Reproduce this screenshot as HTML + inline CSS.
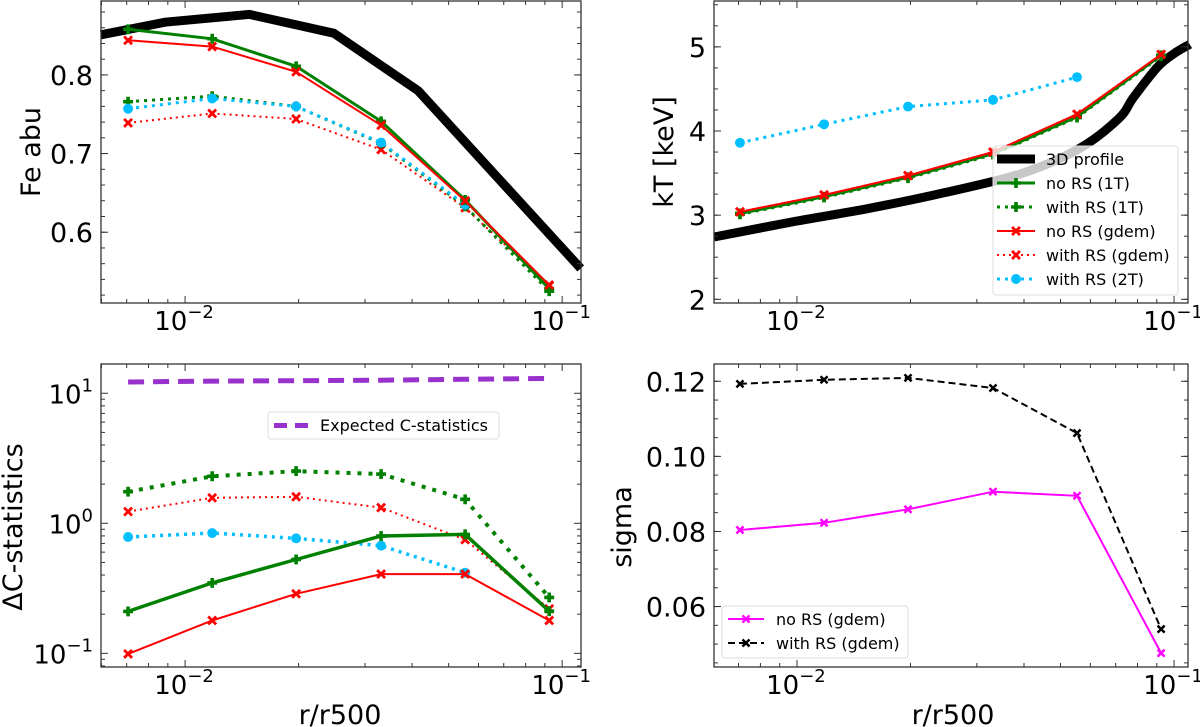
<!DOCTYPE html>
<html><head><meta charset="utf-8"><style>
html,body{margin:0;padding:0;background:#fff;}
svg{display:block;font-family:"DejaVu Sans","Liberation Sans",sans-serif;}
</style></head><body>
<svg id="fig" width="1200" height="727" viewBox="0 0 1200 727" xmlns="http://www.w3.org/2000/svg"></svg>
<script>
// ---- data ----
const rPts = [0.00706, 0.0118, 0.0197, 0.0331, 0.0553, 0.0924];
const rPts5 = [0.00706, 0.0118, 0.0197, 0.0331, 0.0553];
// Fe abundance panel
const fe3dR = [0.00598, 0.00885, 0.0148, 0.0248, 0.0415, 0.112];
const fe3d = [0.851, 0.867, 0.877, 0.853, 0.780, 0.554];
const feNoRS1T = [0.858, 0.846, 0.811, 0.741, 0.641, 0.528];
const feRS1T = [0.766, 0.773, 0.760, 0.713, 0.633, 0.525];
const feNoRSgdem = [0.844, 0.836, 0.804, 0.736, 0.640, 0.533];
const feRSgdem = [0.739, 0.751, 0.744, 0.705, 0.631, 0.532];
const feRS2T = [0.757, 0.770, 0.760, 0.714, 0.635];
// kT panel
const kt3dR = [0.00603, 0.0100, 0.0155, 0.0248, 0.0397, 0.0565, 0.0714, 0.0781, 0.0904, 0.100, 0.110];
const kt3d = [2.74, 2.93, 3.08, 3.27, 3.50, 3.80, 4.15, 4.40, 4.76, 4.92, 5.03];
const ktNoRS1T = [3.02, 3.22, 3.45, 3.73, 4.17, 4.90];
const ktRS1T = [3.01, 3.21, 3.44, 3.72, 4.16, 4.89];
const ktNoRSgdem = [3.04, 3.24, 3.47, 3.75, 4.20, 4.91];
const ktRSgdem = [3.04, 3.24, 3.47, 3.75, 4.20, 4.91];
const ktRS2T = [3.86, 4.08, 4.29, 4.37, 4.64];
// Delta C panel
const cExpected = [12.2, 12.4, 12.5, 12.6, 12.8, 13.0];
const cRS1T = [1.75, 2.30, 2.52, 2.39, 1.53, 0.269];
const cRSgdem = [1.23, 1.57, 1.60, 1.32, 0.748, 0.220];
const cRS2T = [0.785, 0.842, 0.766, 0.673, 0.417];
const cNoRS1T = [0.210, 0.348, 0.527, 0.798, 0.822, 0.211];
const cNoRSgdem = [0.099, 0.179, 0.287, 0.407, 0.407, 0.179];
// sigma panel
const sigNoRS = [0.0804, 0.0823, 0.0859, 0.0906, 0.0895, 0.0476];
const sigRS = [0.1193, 0.1204, 0.1209, 0.1182, 0.1062, 0.0540];
// ticks
const feTicks = [0.6, 0.7, 0.8];
const ktTicks = [2, 3, 4, 5];
const sigTicks = [0.06, 0.08, 0.10, 0.12];
const sigTickLabels = ["0.06", "0.08", "0.10", "0.12"];
const cTicksExp = [-1, 0, 1];
const xTicksExp = [-2, -1];

const NS = "http://www.w3.org/2000/svg";
const fig = document.getElementById('fig');
function el(tag, attrs, parent) {
  const e = document.createElementNS(NS, tag);
  for (const k in attrs) e.setAttribute(k, attrs[k]);
  (parent || fig).appendChild(e);
  return e;
}

function makePanel(name, x0, x1, y0, y1, xDom, yDom, yLog) {
  const g = el('g', {});
  
  
  const sx = v => x0 + (Math.log10(v) - xDom[0]) / (xDom[1] - xDom[0]) * (x1 - x0);
  const sy = yLog ? (v => y1 - (Math.log10(v) - yDom[0]) / (yDom[1] - yDom[0]) * (y1 - y0))
                  : (v => y1 - (v - yDom[0]) / (yDom[1] - yDom[0]) * (y1 - y0));
  return {g, sx, sy, x0, x1, y0, y1, xDom, yDom};
}

function drawFrame(p) {
  const f = el('rect', {x: p.x0, y: p.y0, width: p.x1 - p.x0, height: p.y1 - p.y0, fill: 'none', stroke: '#333', 'stroke-width': 1.3}, p.g);
  
  
}

function tick(p, orient, pos, len) {
  if (orient === 'x') {
    el('line', {x1: pos, x2: pos, y1: p.y1, y2: p.y1 - len, stroke: '#333', 'stroke-width': 1}, p.g);
    el('line', {x1: pos, x2: pos, y1: p.y0, y2: p.y0 + len, stroke: '#333', 'stroke-width': 1}, p.g);
  } else {
    el('line', {x1: p.x0, x2: p.x0 + len, y1: pos, y2: pos, stroke: '#333', 'stroke-width': 1}, p.g);
    el('line', {x1: p.x1, x2: p.x1 - len, y1: pos, y2: pos, stroke: '#333', 'stroke-width': 1}, p.g);
  }
}

function powLabel(p, x, y, exp, anchor, name) {
  const t = el('text', {x: x, y: y, 'font-size': 26, 'text-anchor': anchor, fill: '#000'}, p.g);
  
  
  t.appendChild(document.createTextNode('10'));
  const s = el('tspan', {dy: -12, 'font-size': 18}, t);
  s.textContent = exp < 0 ? '\u2212' + (-exp) : String(exp);
}

function xLogAxis(p) {
  for (let d = -3; d <= 0; d++) {
    for (let m = 1; m <= 9; m++) {
      const v = m * Math.pow(10, d);
      const lv = Math.log10(v);
      if (lv < p.xDom[0] || lv > p.xDom[1]) continue;
      tick(p, 'x', p.sx(v), m === 1 ? 7 : 4);
    }
  }
  xTicksExp.forEach(e => {
    powLabel(p, p.sx(Math.pow(10, e)) - 1, p.y1 + 27, e, 'middle', 'x-tick-label');
  });
}

function yLinAxis(p, ticks, labels, minorStep) {
  const n0 = Math.ceil(p.yDom[0] / minorStep), n1 = Math.floor(p.yDom[1] / minorStep);
  for (let i = n0; i <= n1; i++) tick(p, 'y', p.sy(i * minorStep), 4);
  ticks.forEach((v, i) => {
    tick(p, 'y', p.sy(v), 7);
    const t = el('text', {x: p.x0 - 8, y: p.sy(v) + 10, 'font-size': 27, 'text-anchor': 'end'}, p.g);
    
    
    t.textContent = labels[i];
  });
}

function yLogAxis(p) {
  for (let d = -2; d <= 1; d++) {
    for (let m = 1; m <= 9; m++) {
      const v = m * Math.pow(10, d);
      const lv = Math.log10(v);
      if (lv < p.yDom[0] || lv > p.yDom[1]) continue;
      tick(p, 'y', p.sy(v), m === 1 ? 7 : 4);
    }
  }
  cTicksExp.forEach(e => {
    powLabel(p, p.x0 - 8, p.sy(Math.pow(10, e)) + 10, e, 'end', 'y-tick-label');
  });
}

function marker(p, type, x, y, color, size) {
  const s = size;
  if (type === 'o') {
    return el('circle', {cx: x, cy: y, r: s * 0.55, fill: color}, p.g);
  } else if (type === 'X') {
    const a = s * 0.55, b = s * 0.22;
    return el('path', {d: `M${x - a},${y - a + b} L${x - a + b},${y - a} L${x},${y - b} L${x + a - b},${y - a} L${x + a},${y - a + b} L${x + b},${y} L${x + a},${y + a - b} L${x + a - b},${y + a} L${x},${y + b} L${x - a + b},${y + a} L${x - a},${y + a - b} L${x - b},${y} Z`, fill: color}, p.g);
  } else {
    const a = s * 0.55, b = s * 0.2;
    return el('path', {d: `M${x - b},${y - a} H${x + b} V${y - b} H${x + a} V${y + b} H${x + b} V${y + a} H${x - b} V${y + b} H${x - a} V${y - b} H${x - b} Z`, fill: color}, p.g);
  }
}

function series(p, name, xs, ys, color, width, dash, mk, mkSize, smooth) {
  const P = xs.map((x, i) => [p.sx(x), p.sy(ys[i])]);
  const g = el('g', {}, p.g);
  
  
  let d = 'M' + P[0][0].toFixed(1) + ',' + P[0][1].toFixed(1);
  for (let i = 1; i < P.length; i++) {
    if (smooth) {
      const p0 = P[i - 2] || P[i - 1], p1 = P[i - 1], p2 = P[i], p3 = P[i + 1] || P[i];
      const c1 = [p1[0] + (p2[0] - p0[0]) / 6, p1[1] + (p2[1] - p0[1]) / 6];
      const c2 = [p2[0] - (p3[0] - p1[0]) / 6, p2[1] - (p3[1] - p1[1]) / 6];
      d += ` C${c1[0].toFixed(1)},${c1[1].toFixed(1)} ${c2[0].toFixed(1)},${c2[1].toFixed(1)} ${p2[0].toFixed(1)},${p2[1].toFixed(1)}`;
    } else {
      d += ' L' + P[i][0].toFixed(1) + ',' + P[i][1].toFixed(1);
    }
  }
  const attrs = {d: d, fill: 'none', stroke: color, 'stroke-width': width, 'stroke-linejoin': 'miter', 'stroke-linecap': 'butt'};
  if (dash) attrs['stroke-dasharray'] = dash;
  el('path', attrs, g);
  if (mk) {
    const q = {g: g};
    P.forEach(pt => marker(q, mk, pt[0], pt[1], color, mkSize));
  }
}

function label(x, y, text, rot, name) {
  const t = el('text', {x: x, y: y, 'font-size': 27, 'text-anchor': 'middle', transform: rot ? `rotate(-90 ${x} ${y})` : ''});
  
  
  t.textContent = text;
}

// Panel 1 : Fe abundance
const p1 = makePanel('fe-abundance-panel', 101, 581, 1, 303, [-2.223, -0.950], [0.510, 0.894], false);
series(p1, 'fe-3d-profile', fe3dR, fe3d, '#000', 9, null, null);
series(p1, 'fe-with-rs-gdem', rPts, feRSgdem, '#ff0000', 2, '2,4', 'X', 9);
series(p1, 'fe-with-rs-1t', rPts, feRS1T, '#008000', 3, '3,5', 'P', 9);
series(p1, 'fe-with-rs-2t', rPts5, feRS2T, '#00bfff', 3, '3,5', 'o', 9);
series(p1, 'fe-no-rs-1t', rPts, feNoRS1T, '#008000', 3, null, 'P', 9);
series(p1, 'fe-no-rs-gdem', rPts, feNoRSgdem, '#ff0000', 2, null, 'X', 9);
drawFrame(p1); xLogAxis(p1); yLinAxis(p1, feTicks, ['0.6', '0.7', '0.8'], 0.02);
label(40, 152, 'Fe abu', true, 'y-axis-title-fe');

// Panel 2 : kT
const p2 = makePanel('temperature-panel', 714, 1188, 1, 303, [-2.220, -0.963], [1.956, 5.545], false);
series(p2, 'kt-3d-profile', kt3dR, kt3d, '#000', 9, null, null, 0, true);
series(p2, 'kt-with-rs-2t', rPts5, ktRS2T, '#00bfff', 3, '3,5', 'o', 9);
series(p2, 'kt-with-rs-1t', rPts, ktRS1T, '#008000', 3, '3,5', 'P', 9);
series(p2, 'kt-no-rs-1t', rPts, ktNoRS1T, '#008000', 3, null, 'P', 9);
series(p2, 'kt-with-rs-gdem', rPts, ktRSgdem, '#ff0000', 2, '2,4', 'X', 9);
series(p2, 'kt-no-rs-gdem', rPts, ktNoRSgdem, '#ff0000', 2, null, 'X', 9);
drawFrame(p2); xLogAxis(p2); yLinAxis(p2, ktTicks, ['2', '3', '4', '5'], 0.25);
label(673, 152, 'kT [keV]', true, 'y-axis-title-kt');

// Legend panel 2
(function () {
  const g = el('g', {});
  
  
  el('rect', {x: 993, y: 146, width: 185, height: 149, rx: 3, fill: 'rgba(255,255,255,0.78)', stroke: '#ddd', 'stroke-width': 1}, g);
  const items = [
    ['3D profile', '#000', 9, null, null],
    ['no RS (1T)', '#008000', 3, null, 'P'],
    ['with RS (1T)', '#008000', 3, '3,5', 'P'],
    ['no RS (gdem)', '#ff0000', 2, null, 'X'],
    ['with RS (gdem)', '#ff0000', 2, '2,4', 'X'],
    ['with RS (2T)', '#00bfff', 3, '3,5', 'o'],
  ];
  items.forEach((it, i) => {
    const y = 159 + i * 24;
    const e = el('g', {}, g);
    
    
    const a = {x1: 997, x2: 1035, y1: y, y2: y, stroke: it[1], 'stroke-width': it[2]};
    if (it[3]) a['stroke-dasharray'] = it[3];
    el('line', a, e);
    if (it[4]) marker({g: e}, it[4], 1016, y, it[1], 9);
    const t = el('text', {x: 1046, y: y + 6, 'font-size': 16}, e);
    t.textContent = it[0];
  });
})();

// Panel 3 : Delta C
const p3 = makePanel('delta-c-panel', 101, 581, 364, 667, [-2.223, -0.950], [-1.105, 1.225], true);
series(p3, 'c-expected', rPts, cExpected, '#9932cc', 5, '16,9', null);
series(p3, 'c-with-rs-1t', rPts, cRS1T, '#008000', 4, '4,7', 'P', 9);
series(p3, 'c-with-rs-gdem', rPts, cRSgdem, '#ff0000', 2, '2,4', 'X', 9);
series(p3, 'c-with-rs-2t', rPts5, cRS2T, '#00bfff', 3.5, '3,5', 'o', 9);
series(p3, 'c-no-rs-1t', rPts, cNoRS1T, '#008000', 3.5, null, 'P', 9);
series(p3, 'c-no-rs-gdem', rPts, cNoRSgdem, '#ff0000', 2, null, 'X', 9);
drawFrame(p3); xLogAxis(p3); yLogAxis(p3);
label(22, 527, '\u0394C-statistics', true, 'y-axis-title-c');
label(340, 724, 'r/r500', false, 'x-axis-title-left');
(function () {
  const g = el('g', {});
  
  
  el('rect', {x: 268, y: 412, width: 231, height: 27, rx: 3, fill: 'rgba(255,255,255,0.8)', stroke: '#ddd', 'stroke-width': 1}, g);
  el('line', {x1: 274, x2: 309, y1: 425.5, y2: 425.5, stroke: '#9932cc', 'stroke-width': 5, 'stroke-dasharray': '13,8'}, g);
  const t = el('text', {x: 320, y: 431, 'font-size': 16}, g);
  t.textContent = 'Expected C-statistics';
})();

// Panel 4 : sigma
const p4 = makePanel('sigma-panel', 714, 1188, 364, 667, [-2.220, -0.963], [0.0439, 0.1246], false);
series(p4, 'sigma-with-rs-gdem', rPts, sigRS, '#000', 2, '7,4', 'X', 8);
series(p4, 'sigma-no-rs-gdem', rPts, sigNoRS, '#ff00ff', 2, null, 'X', 8);
drawFrame(p4); xLogAxis(p4); yLinAxis(p4, sigTicks, sigTickLabels, 0.005);
label(631, 527, 'sigma', true, 'y-axis-title-sigma');
label(953, 724, 'r/r500', false, 'x-axis-title-right');
(function () {
  const g = el('g', {});
  
  
  el('rect', {x: 722, y: 606, width: 186, height: 52, rx: 3, fill: 'rgba(255,255,255,0.8)', stroke: '#ddd', 'stroke-width': 1}, g);
  const items = [['no RS (gdem)', '#ff00ff', null], ['with RS (gdem)', '#000', '7,4']];
  items.forEach((it, i) => {
    const y = 619 + i * 24;
    const e = el('g', {}, g);
    
    
    const a = {x1: 728, x2: 764, y1: y, y2: y, stroke: it[1], 'stroke-width': 2};
    if (it[2]) a['stroke-dasharray'] = it[2];
    el('line', a, e);
    marker({g: e}, 'X', 746, y, it[1], 8);
    const t = el('text', {x: 776, y: y + 6, 'font-size': 16}, e);
    t.textContent = it[0];
  });
})();
</script>
</body></html>
